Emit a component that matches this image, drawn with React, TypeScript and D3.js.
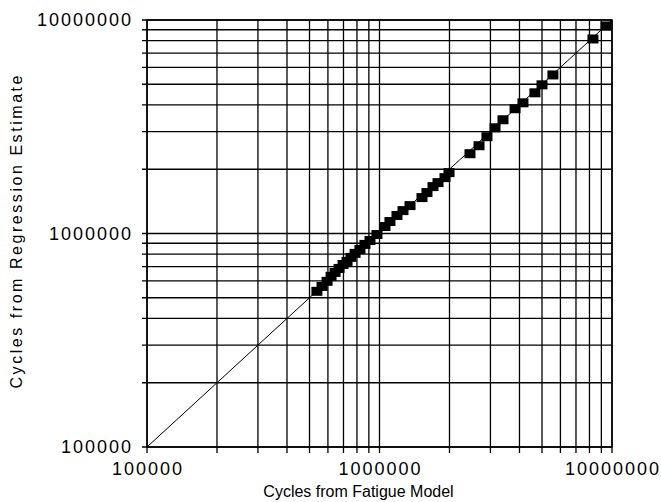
import { scaleLog, line } from "d3";

// decade labels and minor grid values
let tickValues = [
	100000, 200000, 300000, 400000, 500000, 600000, 700000, 800000, 900000,
	1000000, 2000000, 3000000, 4000000, 5000000, 6000000, 7000000, 8000000, 9000000,
	10000000,
];
let labelValues = [100000, 1000000, 10000000];

// cycles from fatigue model (x) vs regression estimate (y)
let fatigueCycles = [
	538000, 566000, 595000, 619000, 644000, 670000, 697000, 725000, 754000, 785000,
	824000, 866000, 910000, 975000, 1056000, 1109000, 1189000, 1262000, 1353000,
	1523000, 1600000, 1699000, 1785000, 1913000, 1991000, 2450000, 2680000, 2899000,
	3140000, 3397000, 3828000, 4140000, 4660000, 5000000, 5570000, 8280000, 9420000,
];
let regressionCycles = [
	536000, 565000, 597000, 630000, 657000, 686000, 716000, 740000, 773000, 807000,
	842000, 889000, 927000, 989000, 1078000, 1138000, 1214000, 1280000, 1351000,
	1473000, 1555000, 1658000, 1731000, 1827000, 1928000, 2365000, 2577000, 2840000,
	3127000, 3410000, 3840000, 4093000, 4560000, 4970000, 5530000, 8150000, 9380000,
];
let diagonal = [100000, 10000000];

export default function App() {
	let width = 661;
	let height = 502;
	let margin = { top: 20, right: 49, bottom: 55, left: 147 };
	let innerWidth = width - margin.left - margin.right;
	let innerHeight = height - margin.top - margin.bottom;

	let xScale = scaleLog().domain([100000, 10000000]).range([0, innerWidth]);
	let yScale = scaleLog().domain([100000, 10000000]).range([innerHeight, 0]);

	let points = fatigueCycles.map((d, i) => ({ x: d, y: regressionCycles[i] }));
	let diagLine = line<number>()
		.x((d) => xScale(d))
		.y((d) => yScale(d));

	let font = "'Liberation Sans', Arial, Helvetica, sans-serif";
	let sq = { w: 11, h: 9 };

	return (
		<div style={{ position: "absolute", left: 0, top: 0 }}>
			<svg width={width} height={height} style={{ display: "block", background: "#fff" }}>
				<g transform={`translate(${margin.left},${margin.top})`}>
					<g className="grid" stroke="#000" strokeWidth={1.3}>
						{tickValues.map((v) => (
							<line key={"h" + v} x1={-5} x2={innerWidth} y1={yScale(v)} y2={yScale(v)} />
						))}
						{tickValues.map((v) => (
							<line key={"v" + v} x1={xScale(v)} x2={xScale(v)} y1={0} y2={innerHeight + 6} />
						))}
					</g>
					<rect width={innerWidth} height={innerHeight} fill="none" stroke="#000" strokeWidth={1.5} />
					<path d={diagLine(diagonal) || ""} fill="none" stroke="#000" strokeWidth={1} />
					<g className="points">
						{points.map((d, i) => (
							<rect
								key={i}
								x={xScale(d.x) - sq.w / 2}
								y={yScale(d.y) - sq.h / 2}
								width={sq.w}
								height={sq.h}
								fill="#000"
							/>
						))}
					</g>
					<g fontFamily={font} fontSize={18} letterSpacing={2} fill="#000">
						{labelValues.map((v) => (
							<text key={"yl" + v} x={-14} y={yScale(v)} dy="0.36em" textAnchor="end">
								{v}
							</text>
						))}
						{labelValues.map((v) => (
							<text key={"xl" + v} x={xScale(v) + 1} y={innerHeight + 28} textAnchor="middle">
								{v}
							</text>
						))}
					</g>
					<text
						x={innerWidth / 2 - 21}
						y={innerHeight + 50}
						textAnchor="middle"
						fontFamily={font}
						fontSize={16}
					>
						Cycles from Fatigue Model
					</text>
				</g>
				<text
					transform={`translate(22,232) rotate(-90)`}
					textAnchor="middle"
					fontFamily={font}
					fontSize={16}
					textLength={313}
					lengthAdjust="spacing"
				>
					Cycles from Regression Estimate
				</text>
			</svg>
		</div>
	);
}
